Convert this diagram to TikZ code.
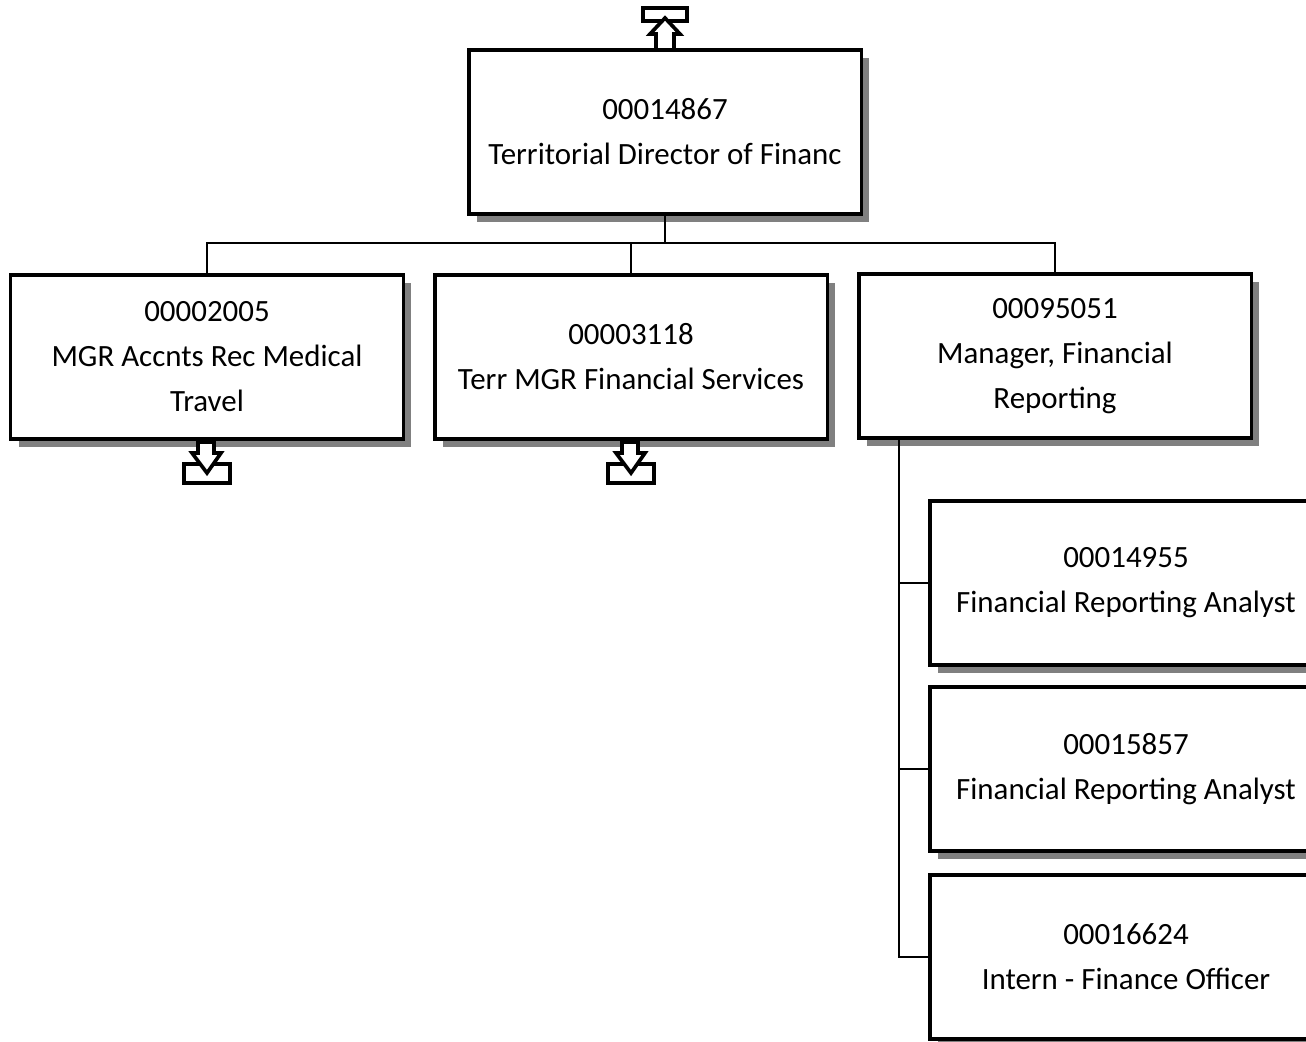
\documentclass[tikz,border=0pt]{standalone}
\usepackage{fontspec}
\setmainfont{Carlito}
\usetikzlibrary{positioning,shadows}
\tikzset{
    every picture/.style={line join=miter},
    % org chart boxes
    post/.style={rectangle,draw=black,line width=2.2pt,fill=white,
        minimum width=9.8cm,minimum height=4.1cm,align=center,
        font=\fontsize{22}{32}\selectfont,
        drop shadow={shadow xshift=5.5pt,shadow yshift=-5.5pt,fill=black!50,opacity=1}},
    link/.style={draw=black,line width=1.4pt},
    icon/.style={draw=black,line width=2.6pt,fill=white}
}

\begin{document}
\begin{tikzpicture}[x=0.025cm,y=-0.025cm]
    \clip (0,0) rectangle (1306,1041);
    \fill[white] (0,0) rectangle (1306,1041);

    % Top position
    \node[post] (dir) at (665,132) {00014867\\Territorial Director of Financ};

    % Second level
    \node[post] (ar)  at (207,357) {00002005\\MGR Accnts Rec Medical\\Travel};
    \node[post] (fs)  at (631,357) {00003118\\Terr MGR Financial Services};
    \node[post] (rep) at (1055,356) {00095051\\Manager, Financial\\Reporting};

    % Reports of the reporting manager
    \node[post] (an1) at (1126,583) {00014955\\Financial Reporting Analyst};
    \node[post] (an2) at (1126,769) {00015857\\Financial Reporting Analyst};
    \node[post] (int) at (1126,957) {00016624\\Intern - Finance Officer};

    % Tree lines
    \coordinate (bus) at (665,243);
    \draw[link] (dir.south) -- (bus);
    \draw[link] (ar.north) |- (bus) -| (rep.north);
    \draw[link] (fs.north) -- (fs.north |- bus);
    \coordinate (trunk) at (899,0);
    \draw[link] (rep.south -| trunk) |- (int.west);
    \draw[link] (an1.west -| trunk) -- (an1.west);
    \draw[link] (an2.west -| trunk) -- (an2.west);

    % Arrow to upper level
    \draw[icon] (643,8) rectangle (687,21);
    \draw[icon] (656,50) -- (656,34) -- (650,34) -- (665,18)
        -- (680,34) -- (674,34) -- (674,50) -- cycle;

    % Arrows to lower levels
    \foreach \cx in {207,631}{
        \draw[icon] (\cx-23,464) rectangle (\cx+23,483);
        \draw[icon] (\cx-9,442) -- (\cx-9,453) -- (\cx-15,453) -- (\cx,473)
            -- (\cx+14,453) -- (\cx+7,453) -- (\cx+7,442) -- cycle;
    }
\end{tikzpicture}
\end{document}
